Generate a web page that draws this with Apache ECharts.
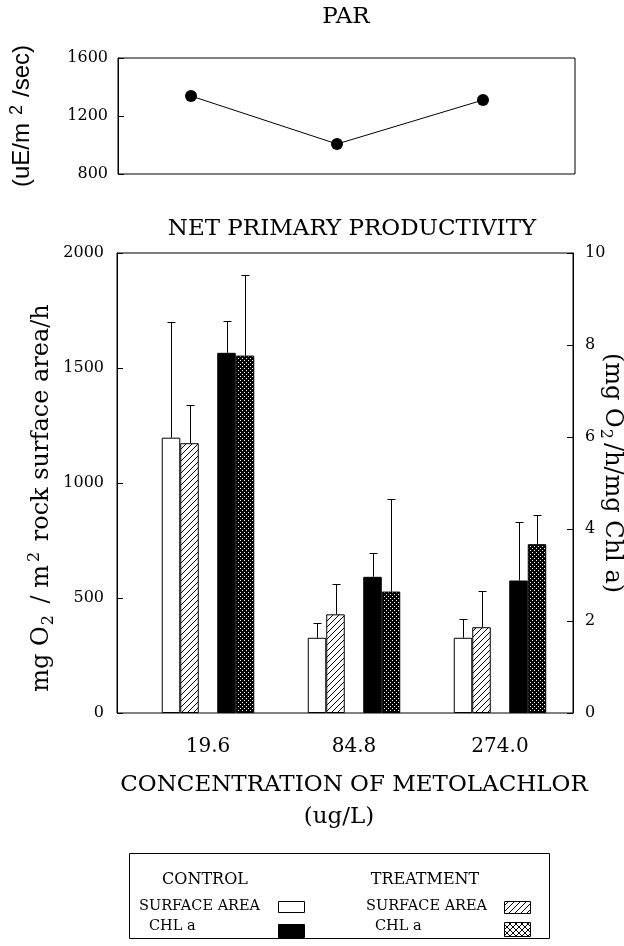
<!DOCTYPE html>
<html><head><meta charset="utf-8">
<script src="https://cdn.jsdelivr.net/npm/echarts@6/dist/echarts.min.js"></script>
<style>html,body{margin:0;padding:0;background:#fff}#c{width:624px;height:946px}</style>
</head><body><div id="c"></div>
<script>
// ---------- data ----------
const categories = ['19.6', '84.8', '274.0'];
const parValues = [1338, 1007, 1310];
const controlSurface = [1197, 327, 327];
const controlSurfaceErr = [502, 66, 82];
const treatSurface = [1173, 429, 373];
const treatSurfaceErr = [166, 132, 157];
const controlChl = [7.83, 2.96, 2.88];
const controlChlErr = [0.69, 0.52, 1.28];
const treatChl = [7.77, 2.64, 3.67];
const treatChlErr = [1.75, 2.01, 0.63];
const legendHeaders = ['CONTROL', 'TREATMENT'];
const legendRows = ['SURFACE AREA', 'CHL a'];

// ---------- styles ----------
const SERIF = 'DejaVu Serif';
const SANS = 'Liberation Sans';
const BW = 18.5;

function makeHatch() {
  const c = document.createElement('canvas'); c.width = 6; c.height = 6;
  const g = c.getContext('2d');
  g.fillStyle = '#fff'; g.fillRect(0, 0, 6, 6);
  g.strokeStyle = '#000'; g.lineWidth = 1;
  g.beginPath();
  g.moveTo(0, 6); g.lineTo(6, 0);
  g.moveTo(-1, 1); g.lineTo(1, -1);
  g.moveTo(5, 7); g.lineTo(7, 5);
  g.stroke();
  return c;
}
function makeDots() {
  const c = document.createElement('canvas'); c.width = 4; c.height = 4;
  const g = c.getContext('2d');
  g.fillStyle = '#000'; g.fillRect(0, 0, 4, 4);
  g.fillStyle = '#fff'; g.fillRect(0, 0, 1, 1); g.fillRect(2, 2, 1, 1);
  return c;
}
function makeCross() {
  const c = document.createElement('canvas'); c.width = 6; c.height = 6;
  const g = c.getContext('2d');
  g.fillStyle = '#fff'; g.fillRect(0, 0, 6, 6);
  g.strokeStyle = '#000'; g.lineWidth = 1;
  g.beginPath();
  g.moveTo(0, 6); g.lineTo(6, 0); g.moveTo(0, 0); g.lineTo(6, 6);
  g.stroke();
  return c;
}
const hatch = { image: makeHatch(), repeat: 'repeat' };
const dots = { image: makeDots(), repeat: 'repeat' };
const cross = { image: makeCross(), repeat: 'repeat' };

function bar(name, data, yIdx, color) {
  return { type: 'bar', name, xAxisIndex: 3, yAxisIndex: yIdx, data, barWidth: BW, barGap: '0%',
    itemStyle: { color, borderColor: '#000', borderWidth: 1 }, silent: true };
}
function errSeries(name, means, errs, offset, yIdx) {
  return {
    type: 'custom', name, xAxisIndex: 3, yAxisIndex: yIdx, z: 5, silent: true,
    data: means.map((m, i) => [i, m, m + errs[i]]),
    renderItem: (params, api) => {
      const b = api.coord([api.value(0), api.value(1)]);
      const t = api.coord([api.value(0), api.value(2)]);
      const x = Math.round(b[0] + offset) + 0.5;
      const ty = Math.round(t[1]) + 0.5;
      return { type: 'group', children: [
        { type: 'line', shape: { x1: x, y1: b[1], x2: x, y2: ty }, style: { stroke: '#000', lineWidth: 1 } },
        { type: 'line', shape: { x1: x - 4, y1: ty, x2: x + 4, y2: ty }, style: { stroke: '#000', lineWidth: 1 } }
      ] };
    }
  };
}

const axisLbl = { color: '#000', fontFamily: SERIF, fontSize: 16, formatter: (v) => String(v) };
const frameGrid = (o) => Object.assign({ show: true, borderColor: '#000', borderWidth: 1, backgroundColor: 'transparent', outerBoundsMode: 'none', containLabel: false }, o);

const supRich = {
  t: { fontFamily: SERIF, fontSize: 24, color: '#000', lineHeight: 30, verticalAlign: 'middle' },
  te: { fontFamily: SERIF, fontSize: 24, color: '#000', lineHeight: 30, verticalAlign: 'middle', padding: [0, 30, 0, 0] },
  tr: { fontFamily: SERIF, fontSize: 24, color: '#000', lineHeight: 30, verticalAlign: 'middle', padding: [0, 20, 0, 0] },
  sp: { fontFamily: SERIF, fontSize: 16, color: '#000', lineHeight: 14, verticalAlign: 'top', padding: [0, 3, 0, 3] },
  sb: { fontFamily: SERIF, fontSize: 16, color: '#000', lineHeight: 14, verticalAlign: 'bottom', padding: [0, 4, 0, 1] },
  a: { fontFamily: SANS, fontSize: 24, color: '#000', lineHeight: 28, verticalAlign: 'middle' },
  as: { fontFamily: SANS, fontSize: 18, color: '#000', lineHeight: 14, verticalAlign: 'top', padding: [0, 8, 0, 8] }
};

const legendGraphics = [];
legendGraphics.push({ type: 'rect', shape: { x: 129.5, y: 853.5, width: 420, height: 85 }, style: { fill: 'none', stroke: '#000', lineWidth: 1 } });
const colX = [[205, 139, 149], [425, 366, 375]];
legendHeaders.forEach((h, k) => {
  legendGraphics.push({ type: 'text', style: { text: h, x: colX[k][0], y: 880, align: 'center', verticalAlign: 'middle', font: '16px "DejaVu Serif"', fill: '#000' } });
  legendRows.forEach((r, j) => {
    legendGraphics.push({ type: 'text', style: { text: r, x: colX[k][1 + j], y: 906 + j * 20, align: 'left', verticalAlign: 'middle', font: '14.5px "DejaVu Serif"', fill: '#000' } });
  });
});
legendGraphics.push({ type: 'rect', shape: { x: 278.5, y: 901.5, width: 26, height: 11 }, style: { fill: '#fff', stroke: '#000', lineWidth: 1 } });
legendGraphics.push({ type: 'rect', shape: { x: 278.5, y: 924.5, width: 26, height: 13 }, style: { fill: '#000', stroke: '#000', lineWidth: 1 } });
legendGraphics.push({ type: 'rect', shape: { x: 504.5, y: 901.5, width: 26, height: 12 }, style: { fill: hatch, stroke: '#000', lineWidth: 1 } });
legendGraphics.push({ type: 'rect', shape: { x: 504.5, y: 922.5, width: 26, height: 14 }, style: { fill: cross, stroke: '#000', lineWidth: 1 } });

const option = {
  animation: false,
  backgroundColor: '#fff',
  graphic: [
    { type: 'text', style: { text: 'PAR', x: 346, y: 17, align: 'center', verticalAlign: 'middle', font: '23px "DejaVu Serif"', fill: '#000' } },
    { type: 'text', style: { text: 'NET PRIMARY PRODUCTIVITY', x: 352, y: 229, align: 'center', verticalAlign: 'middle', font: '23px "DejaVu Serif"', fill: '#000' } }
  ].concat(legendGraphics),
  grid: [
    frameGrid({ left: 118, top: 58, width: 457, height: 116 }),
    { left: 118, top: 58, width: 438, height: 116, show: false, outerBoundsMode: 'none', containLabel: false },
    frameGrid({ left: 117, top: 253, width: 456, height: 460 }),
    { left: 135, top: 253, width: 438, height: 460, show: false, outerBoundsMode: 'none', containLabel: false }
  ],
  xAxis: [
    { gridIndex: 0, type: 'value', min: 0, max: 1, show: false },
    { gridIndex: 1, type: 'category', data: categories, show: false },
    { gridIndex: 2, type: 'value', min: 0, max: 1, show: false },
    { gridIndex: 3, type: 'category', data: categories,
      axisLine: { show: false }, axisTick: { show: false },
      axisLabel: { color: '#000', fontFamily: SERIF, fontSize: 20, margin: 24 },
      name: '{x|CONCENTRATION OF METOLACHLOR}\n{y|(ug/L)}', nameLocation: 'middle', nameGap: 56, nameMoveOverlap: false,
      nameTextStyle: { rich: {
        x: { fontFamily: SERIF, fontSize: 23, color: '#000', lineHeight: 32 },
        y: { fontFamily: SERIF, fontSize: 23, color: '#000', lineHeight: 32, padding: [0, 30, 0, 0] }
      } } }
  ],
  yAxis: [
    { gridIndex: 0, type: 'value', min: 800, max: 1600, interval: 400, position: 'left',
      axisLine: { show: true, lineStyle: { color: '#000' } },
      axisTick: { show: true, inside: true, length: 6, lineStyle: { color: '#000' } },
      splitLine: { show: false }, axisLabel: Object.assign({ margin: 10 }, axisLbl),
      name: '{a|(uE/m}{as|2}{a|/sec)}', nameLocation: 'middle', nameRotate: 90, nameGap: 82, nameMoveOverlap: false,
      nameTextStyle: { rich: supRich } },
    { gridIndex: 1, type: 'value', min: 800, max: 1600, show: false },
    { gridIndex: 2, type: 'value', min: 0, max: 2000, interval: 500, position: 'left',
      axisLine: { show: true, lineStyle: { color: '#000' } },
      axisTick: { show: true, inside: true, length: 6, lineStyle: { color: '#000' } },
      splitLine: { show: false }, axisLabel: Object.assign({ margin: 13 }, axisLbl),
      name: '{t|mg O}{sb|2}{t| / m}{sp|2}{te| rock surface area/h}', nameLocation: 'middle', nameRotate: 90, nameGap: 60, nameMoveOverlap: false,
      nameTextStyle: { rich: supRich } },
    { gridIndex: 2, type: 'value', min: 0, max: 10, interval: 2, position: 'right',
      axisLine: { show: true, lineStyle: { color: '#000' } },
      axisTick: { show: true, inside: true, length: 6, lineStyle: { color: '#000' } },
      splitLine: { show: false }, axisLabel: Object.assign({ margin: 12 }, axisLbl),
      name: '{t|(mg O}{sb|2}{tr|/h/mg Chl a)}', nameLocation: 'middle', nameRotate: -90, nameGap: 24, nameMoveOverlap: false,
      nameTextStyle: { rich: supRich } },
    { gridIndex: 3, type: 'value', min: 0, max: 2000, show: false },
    { gridIndex: 3, type: 'value', min: 0, max: 10, show: false }
  ],
  series: [
    { type: 'line', name: 'PAR', xAxisIndex: 1, yAxisIndex: 1, data: parValues,
      symbol: 'circle', symbolSize: 12, itemStyle: { color: '#000' }, lineStyle: { color: '#000', width: 1 }, silent: true },
    bar('Control surface area', controlSurface, 4, '#fff'),
    bar('Treatment surface area', treatSurface, 4, hatch),
    bar('spacer', ['-', '-', '-'], 4, 'transparent'),
    bar('Control Chl a', controlChl, 5, '#000'),
    bar('Treatment Chl a', treatChl, 5, dots),
    errSeries('Control surface area SE', controlSurface, controlSurfaceErr, -2 * BW, 4),
    errSeries('Treatment surface area SE', treatSurface, treatSurfaceErr, -BW, 4),
    errSeries('Control Chl a SE', controlChl, controlChlErr, BW, 5),
    errSeries('Treatment Chl a SE', treatChl, treatChlErr, 2 * BW, 5)
  ]
};
const chart = echarts.init(document.getElementById('c'), null, { renderer: 'canvas' });
chart.setOption(option);
</script></body></html>
